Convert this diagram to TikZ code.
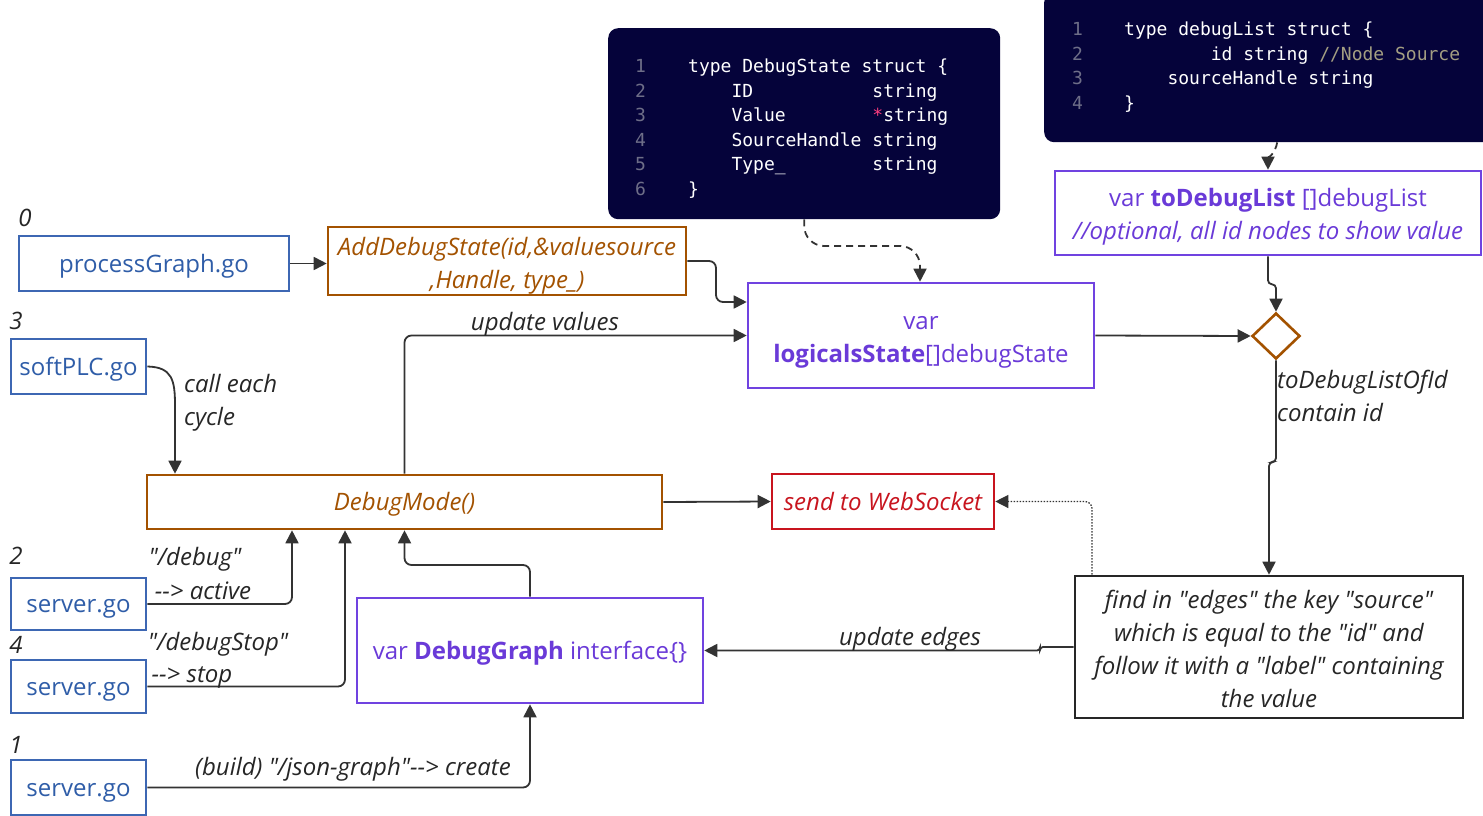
\documentclass[tikz,border=0pt]{standalone}
\usepackage{fontspec}
\setmainfont{Open Sans}[Ligatures=TeXOff]
\newfontfamily\codefont{DejaVu Sans Mono}[Ligatures=TeXOff]
\usetikzlibrary{arrows.meta,shapes.geometric}
\definecolor{cblue}{HTML}{3D67B3}
\definecolor{ctblue}{HTML}{2F5DA8}
\definecolor{cbrown}{HTML}{A35200}
\definecolor{cpurple}{HTML}{7043E0}
\definecolor{ctpurple}{HTML}{6A3AD8}
\definecolor{cred}{HTML}{C8141E}
\definecolor{cnavy}{HTML}{05033A}
\definecolor{cedge}{HTML}{333333}
\definecolor{cnum}{HTML}{6E6E88}
\definecolor{ccomment}{HTML}{A39E82}
\definecolor{cstar}{HTML}{FF3D7F}
\newlength\codew
\setlength\codew{10.836pt}
\newcommand\csp[1]{\hspace*{#1\codew}}
\newcommand\codesetup{\codefont\fontsize{18}{24.6}\selectfont}
\newcommand\lnum[1]{\makebox[53pt][l]{\color{cnum}#1}}
\newcommand\lnumb[1]{\makebox[52pt][l]{\color{cnum}#1}}
\newcommand\tstrut[1]{\rule{0pt}{#1}}
\begin{document}
\begin{tikzpicture}[x=1pt,y=-1pt,
  every node/.style={font=\fontsize{24}{33}\selectfont, inner sep=0pt},
  box/.style={draw, line width=2.6pt, align=center, fill=white,
    execute at begin node={\rule{0pt}{27.5pt}}, execute at end node=\strut},
  bluebox/.style={box, draw=cblue, text=ctblue},
  brownbox/.style={box, draw=cbrown, text=cbrown, font=\fontsize{24}{33}\selectfont\itshape},
  purplebox/.style={box, draw=cpurple, text=ctpurple},
  redbox/.style={box, draw=cred, text=cred, font=\fontsize{24}{33}\selectfont\itshape},
  blackbox/.style={box, draw=black!85, text=black!85, font=\fontsize{24}{33}\selectfont\itshape},
  codebox/.style={fill=cnavy, rounded corners=10pt, text=white, anchor=north west,
    font=\codesetup, align=left},
  conn/.style={draw=cedge, line width=1.8pt, rounded corners=7pt,
    -{Triangle[length=13pt,width=13pt]}},
  dashconn/.style={conn, dash pattern=on 7pt off 5pt},
  dotconn/.style={conn, line width=1.3pt, dash pattern=on 1.5pt off 1.5pt},
  lbl/.style={font=\fontsize{24}{33}\selectfont\itshape, text=black!85, align=left, yshift=-3pt},
  num/.style={font=\fontsize{24}{33}\selectfont\itshape, text=black!85}
]
\path[use as bounding box] (0,0) rectangle (1483,816);

% code blocks
\node[codebox, minimum height=191pt, text width=338pt, inner xsep=27pt] (code1) at (608,28) {%
\rule{0pt}{23.5pt}\lnum{1}type\csp1DebugState\csp1struct\csp1\{\\
\lnum{2}\csp4ID\csp{11}string\\
\lnum{3}\csp4Value\csp8{\color{cstar}*}string\\
\lnum{4}\csp4SourceHandle\csp1string\\
\lnum{5}\csp4Type\_\csp8string\\
\lnum{6}\}};
\node[codebox, minimum height=150pt, text width=410pt, inner xsep=28pt] (code2) at (1044,-8) {%
\lnumb{1}type\csp1debugList\csp1struct\csp1\{\\
\lnumb{2}\csp8id\csp1string\csp1{\color{ccomment}//Node\csp1Source}\\
\lnumb{3}\csp4sourceHandle\csp1string\\
\lnumb{4}\}};

% nodes
\node[bluebox, minimum width=270pt, minimum height=55pt] (pg) at (154,263.5) {processGraph.go};
\node[brownbox, inner ysep=-5pt, minimum width=358pt, minimum height=68pt] (addd) at (507,261) {\tstrut{32pt}AddDebugState(id,\&valuesource\\,Handle, type\_)};
\node[bluebox, minimum width=135pt, minimum height=55pt] (spl) at (78.5,366.5) {softPLC.go};
\node[brownbox, minimum width=515pt, minimum height=54pt] (dm) at (404.5,502) {DebugMode()};
\node[purplebox, minimum width=346pt, minimum height=105pt] (logic) at (921,335.5) {\tstrut{31pt}var\\\textbf{logicalsState}[]debugState};
\node[purplebox, minimum width=426pt, minimum height=84pt] (tdl) at (1268,213) {\tstrut{30.5pt}var \textbf{toDebugList} []debugList\\\textit{//optional, all id nodes to show value}};
\node[diamond, draw=cbrown, line width=2.6pt, minimum width=48pt, minimum height=46pt, fill=white] (dia) at (1276,336) {};
\node[redbox, minimum width=222pt, minimum height=55pt] (ws) at (883,501.5) {send to WebSocket};
\node[blackbox, minimum width=388pt, minimum height=142pt] (find) at (1269,647) {\tstrut{32pt}find in "edges" the key "source"\\which is equal to the "id" and\\follow it with a "label" containing\\the value};
\node[purplebox, minimum width=346pt, minimum height=105pt] (dg) at (530,650.5) {var \textbf{DebugGraph} interface\{\}};
\node[bluebox, minimum width=135pt, minimum height=52pt] (s2) at (78.5,604) {server.go};
\node[bluebox, minimum width=135pt, minimum height=53pt] (s4) at (78.5,686.5) {server.go};
\node[bluebox, minimum width=135pt, minimum height=55pt] (s1) at (78.5,787.5) {server.go};

% number labels
\node[num] (n0) at (25,218) {0};
\node[num] (n3) at (16,321) {3};
\node[num] (n2) at (16,556) {2};
\node[num] (n4) at (16,645) {4};
\node[num] (n1) at (16,745) {1};

% connectors
\draw[conn] (pg.east) -- (addd.west |- pg.east);
\draw[conn] (addd.east) -| (716,302) -- (logic.west |- 0,302);
\draw[conn, rounded corners=0pt] (spl.east) .. controls (172,367) and (175,380) .. (175,405) -- (175,0 |- dm.north);
\draw[conn] (dm.north) |- (logic.west);
\node[lbl] (luv) at (545,321) {update values};
\node[lbl, anchor=west] (lce) at (184,400) {call each\\cycle};
\draw[conn] (logic.east) -- (dia.west);
\draw[dashconn, rounded corners=20pt] (code1.south) |- (920,246) -- (920,0 |- logic.north);
\draw[dashconn, rounded corners=0pt] (code2.south) to[out=-100,in=90] (tdl.north);
\draw[conn, rounded corners=4pt] (tdl.south) -- ++(0,28) -| (dia.north);
\draw[conn, rounded corners=4pt] (dia.south) -- (1276,462) -| (find.north);
\node[lbl, anchor=west] (ltd) at (1277,393) {toDebugListOfId\\contain id};
\draw[conn] (dm.east) -- (ws.west);
\draw[dotconn] (1092,0 |- find.north) |- (ws.east);
\draw[conn, rounded corners=3pt] (find.west) -- (1040,647) |- (dg.east);
\node[lbl] (lue) at (910,636) {update edges};
\draw[conn] (dg.north) |- (dm.south |- 0,565) -- (dm.south);
\draw[conn] (s2.east) -| (292,0 |- dm.south);
\draw[conn] (s4.east) -| (345,0 |- dm.south);
\draw[conn] (s1.east) -| (dg.south);
\node[lbl] (ld1) at (195,556) {"/debug"};
\node[lbl] (ld2) at (203,588) {-\kern0pt-> active};
\node[lbl] (ls1) at (218,641) {"/debugStop"};
\node[lbl] (ls2) at (192,674) {-\kern0pt-> stop};
\node[lbl] (lbj) at (353,766) {(build) "/json-graph"-\kern0pt-> create};
\end{tikzpicture}
\end{document}
